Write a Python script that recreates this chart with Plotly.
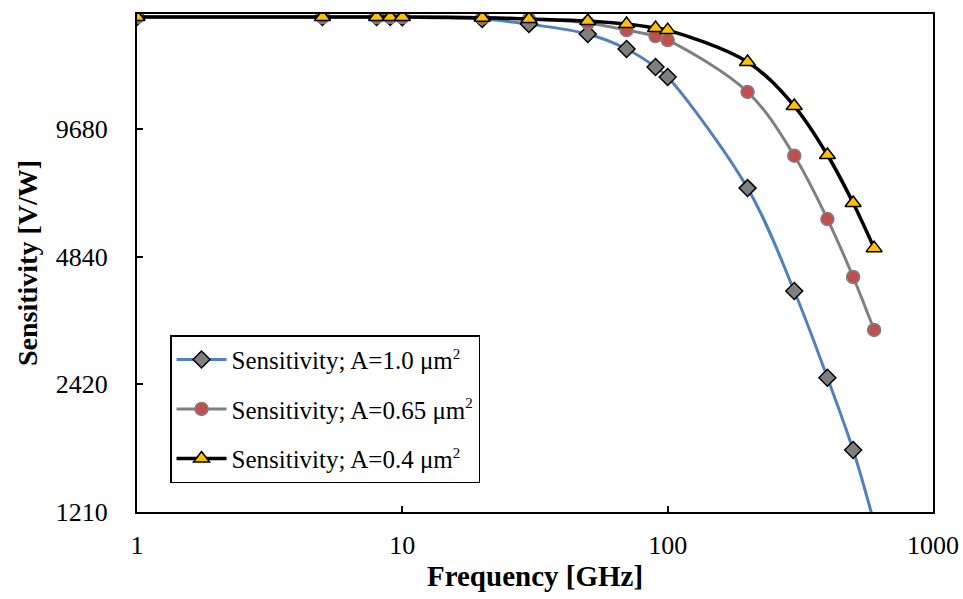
import plotly.graph_objects as go

freq = [1, 5, 8, 9, 10, 20, 30, 50, 70, 90, 100, 200, 300, 400, 500, 600]
sens_a100 = [17770, 17770, 17770, 17770, 17750, 17580, 17100, 16200, 14940, 13550, 12830, 7020, 4016, 2508, 1694, 1140]
sens_a065 = [17770, 17770, 17770, 17770, 17770, 17700, 17580, 17200, 16550, 16020, 15680, 11830, 8370, 5935, 4333, 3250]
sens_a040 = [17770, 17770, 17770, 17770, 17770, 17700, 17580, 17390, 17100, 16740, 16550, 13920, 10960, 8402, 6476, 5068]

SUP = "<sup><span style='font-size:15px'>2</span></sup>"
names = ["Sensitivity; A=1.0 μm" + SUP,
         "Sensitivity; A=0.65 μm" + SUP,
         "Sensitivity; A=0.4 μm" + SUP]
y_ticks = [1210, 2420, 4840, 9680]
x_ticks = [1, 10, 100, 1000]

FONT = "Liberation Serif, Times New Roman, serif"

fig = go.Figure()
fig.add_trace(go.Scatter(
    x=freq, y=sens_a100, name=names[0], mode="lines+markers",
    line=dict(color="#4F81BD", width=3, shape="spline", smoothing=1),
    marker=dict(symbol="diamond", size=13, color="#7F7F7F", line=dict(color="black", width=1.5)),
    legendgroup="g1"))
fig.add_trace(go.Scatter(
    x=freq, y=sens_a065, name=names[1], mode="lines+markers",
    line=dict(color="#808080", width=3, shape="spline", smoothing=1),
    marker=dict(symbol="circle", size=13, color="#C0504D", line=dict(color="#808080", width=1.5)),
    legendgroup="g2"))
fig.add_trace(go.Scatter(
    x=freq, y=sens_a040, name=names[2], mode="lines+markers",
    line=dict(color="black", width=3.5, shape="spline", smoothing=1),
    marker=dict(symbol="triangle-up", size=14, color="#FFC000", line=dict(color="black", width=1.5)),
    legendgroup="g3"))

fig.update_layout(
    width=963, height=599,
    margin=dict(l=137, r=30, t=14, b=87),
    plot_bgcolor="white", paper_bgcolor="white",
    font=dict(family=FONT, color="black", size=26),
    showlegend=True,
    legend=dict(x=0.0415, y=0.355, xanchor="left", yanchor="top",
                bgcolor="white", bordercolor="black", borderwidth=1.5,
                font=dict(family=FONT, size=25, color="black"),
                tracegroupgap=14, itemwidth=50),
)
fig.update_xaxes(
    type="log", range=[0, 3],
    tickvals=x_ticks, ticktext=[str(v) for v in x_ticks],
    ticks="inside", ticklen=6, tickwidth=1.5, tickcolor="black",
    showline=True, linecolor="black", linewidth=2, mirror=True,
    showgrid=False, zeroline=False,
    tickfont=dict(family=FONT, size=26), ticklabelstandoff=9,
    title=dict(text="<b>Frequency [GHz]</b>", font=dict(family=FONT, size=29), standoff=6),
    automargin=False,
)
fig.update_yaxes(
    type="log", range=[3.0828, 4.2568],
    tickvals=y_ticks, ticktext=[str(v) for v in y_ticks],
    ticks="inside", ticklen=6, tickwidth=1.5, tickcolor="black",
    showline=True, linecolor="black", linewidth=2, mirror=True,
    showgrid=False, zeroline=False,
    tickfont=dict(family=FONT, size=26), ticklabelstandoff=22,
    title=dict(text="<b>Sensitivity [V/W]</b>", font=dict(family=FONT, size=28), standoff=10),
    automargin=False,
)

fig.write_html("out.html", config={"displayModeBar": False},
               post_script="document.body.style.margin='0';document.body.style.overflow='hidden';")
